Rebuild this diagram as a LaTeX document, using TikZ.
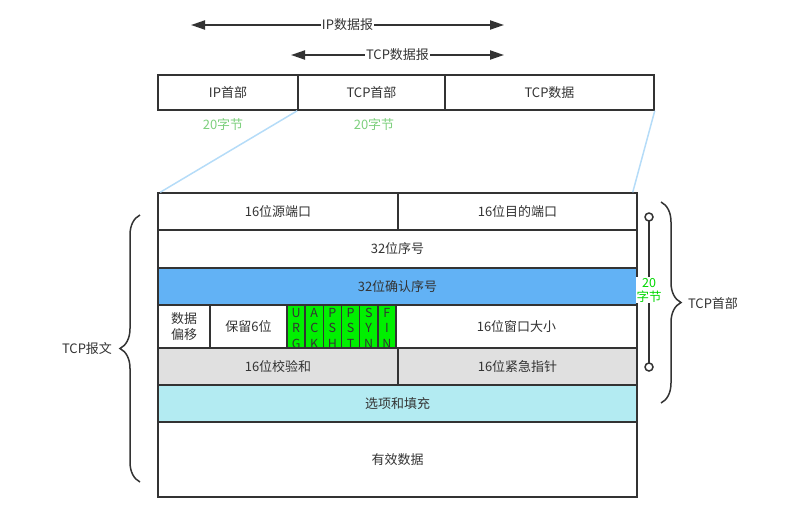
\documentclass[tikz,border=0pt]{standalone}
\usepackage{fontspec}
\setmainfont{Noto Sans CJK SC}
\usetikzlibrary{arrows.meta,positioning,decorations.pathreplacing}
\definecolor{txtgray}{HTML}{333333}
\definecolor{ackblue}{HTML}{62B2F5}
\definecolor{rowgray}{HTML}{E0E0E0}
\definecolor{optcyan}{HTML}{B3EBF2}
\definecolor{flaggreen}{HTML}{00F000}
\definecolor{lightgreen}{HTML}{7DCF7D}
\definecolor{linkblue}{HTML}{B5DCF8}
\begin{document}
\begin{tikzpicture}[x=1pt,y=-1pt]
  \tikzstyle{cell}=[draw=txtgray,line width=1.5pt,inner sep=0pt,text=txtgray,font=\fontsize{13}{16}\selectfont]
  \tikzstyle{flag}=[cell,fill=flaggreen,minimum width=18.17pt,minimum height=43pt]
  \tikzstyle{lbl}=[text=txtgray,font=\fontsize{13}{16}\selectfont,inner sep=1pt]
  \tikzstyle{span}=[{Triangle[length=14pt,width=9pt]}-{Triangle[length=14pt,width=9pt]},line width=2pt,draw=txtgray]
  \tikzstyle{curly}=[decorate,decoration={brace,amplitude=20pt},line width=1.5pt,draw=txtgray]
  \useasboundingbox (0,0) rectangle (804,523);

  % arrows over the datagram
  \coordinate (ipL) at (191,25);
  \coordinate (ipR) at (504,25);
  \coordinate (tcpL) at (291,55);
  \coordinate (tcpR) at (504,55);
  \draw[span] (ipL) -- (ipR);
  \draw[span] (tcpL) -- (tcpR);
  \node[lbl,fill=white] (iplbl) at (347.5,25) {IP数据报};
  \node[lbl,fill=white] (tcplbl) at (397.5,55) {TCP数据报};

  % datagram
  \node[cell,minimum width=140pt,minimum height=35pt] (iph) at (228,92.5) {IP首部};
  \node[cell,minimum width=147pt,minimum height=35pt] (tcph) at (371.5,92.5) {TCP首部};
  \node[cell,minimum width=209pt,minimum height=35pt] (tcpd) at (549.5,92.5) {TCP数据};
  \node[lbl,text=lightgreen] (ipsz) at (223,125) {20字节};
  \node[lbl,text=lightgreen] (tcpsz) at (374,125) {20字节};

  % TCP segment
  \node[cell,minimum width=240pt,minimum height=37pt] (src) at (278,211.5) {16位源端口};
  \node[cell,minimum width=239pt,minimum height=37pt] (dst) at (517.5,211.5) {16位目的端口};
  \node[cell,minimum width=479pt,minimum height=38pt] (seq) at (397.5,249) {32位序号};
  \node[cell,fill=ackblue,minimum width=479pt,minimum height=37pt] (ack) at (397.5,286.5) {32位确认序号};
  \node[cell,minimum width=52pt,minimum height=43pt,align=center] (off) at (184,326.5) {数据\\偏移};
  \node[cell,minimum width=77pt,minimum height=43pt] (rsv) at (248.5,326.5) {保留6位};
  \foreach \a/\b/\c [count=\i] in {U/R/G,A/C/K,P/S/H,P/S/T,S/Y/N,F/I/N} {
    \node[flag] (f\i) at ({287+(\i-0.5)*18.17},326.5) {};
    \begin{scope}
      \clip (f\i.north west) rectangle (f\i.south east);
      \node[lbl,anchor=north,align=center,font=\fontsize{12.5}{15.5}\selectfont] at ([yshift=-2.4pt]f\i.north) {\a\\\b\\\c};
    \end{scope}
  }
  \node[cell,minimum width=241pt,minimum height=43pt] (win) at (516.5,326.5) {16位窗口大小};
  \node[cell,fill=rowgray,minimum width=240pt,minimum height=37pt] (chk) at (278,366.5) {16位校验和};
  \node[cell,fill=rowgray,minimum width=239pt,minimum height=37pt] (urg) at (517.5,366.5) {16位紧急指针};
  \node[cell,fill=optcyan,minimum width=479pt,minimum height=37pt] (opt) at (397.5,403.5) {选项和填充};
  \node[cell,minimum width=479pt,minimum height=75pt] (data) at (397.5,459.5) {有效数据};

  % zoom lines
  \draw[linkblue,line width=1.5pt] (tcph.south west) -- ([xshift=3pt]src.north west);
  \draw[linkblue,line width=1.5pt] (tcpd.south east) -- ([xshift=-5pt]dst.north east);

  % header size
  \coordinate (mtop) at (649,217);
  \coordinate (mbot) at (649,367);
  \draw[txtgray,line width=2pt] ([yshift=4pt]mtop) -- ([yshift=-4pt]mbot);
  \draw[txtgray,line width=1.5pt,fill=white] (mtop) circle (4);
  \draw[txtgray,line width=1.5pt,fill=white] (mbot) circle (4);
  \node[lbl,fill=white,text=flaggreen!90!black,align=center,font=\fontsize{12.5}{14}\selectfont] (hsz) at (649,290) {20\\字节};

  % braces
  \coordinate (rbT) at (661,202);
  \coordinate (rbB) at (661,403);
  \draw[curly] (rbT) -- (rbB);
  \node[lbl] (hdr) at (713,304) {TCP首部};
  \coordinate (lbT) at (140,215);
  \coordinate (lbB) at (140,482);
  \draw[curly] (lbB) -- (lbT);
  \node[lbl] (seg) at (87,349) {TCP报文};
\end{tikzpicture}
\end{document}
